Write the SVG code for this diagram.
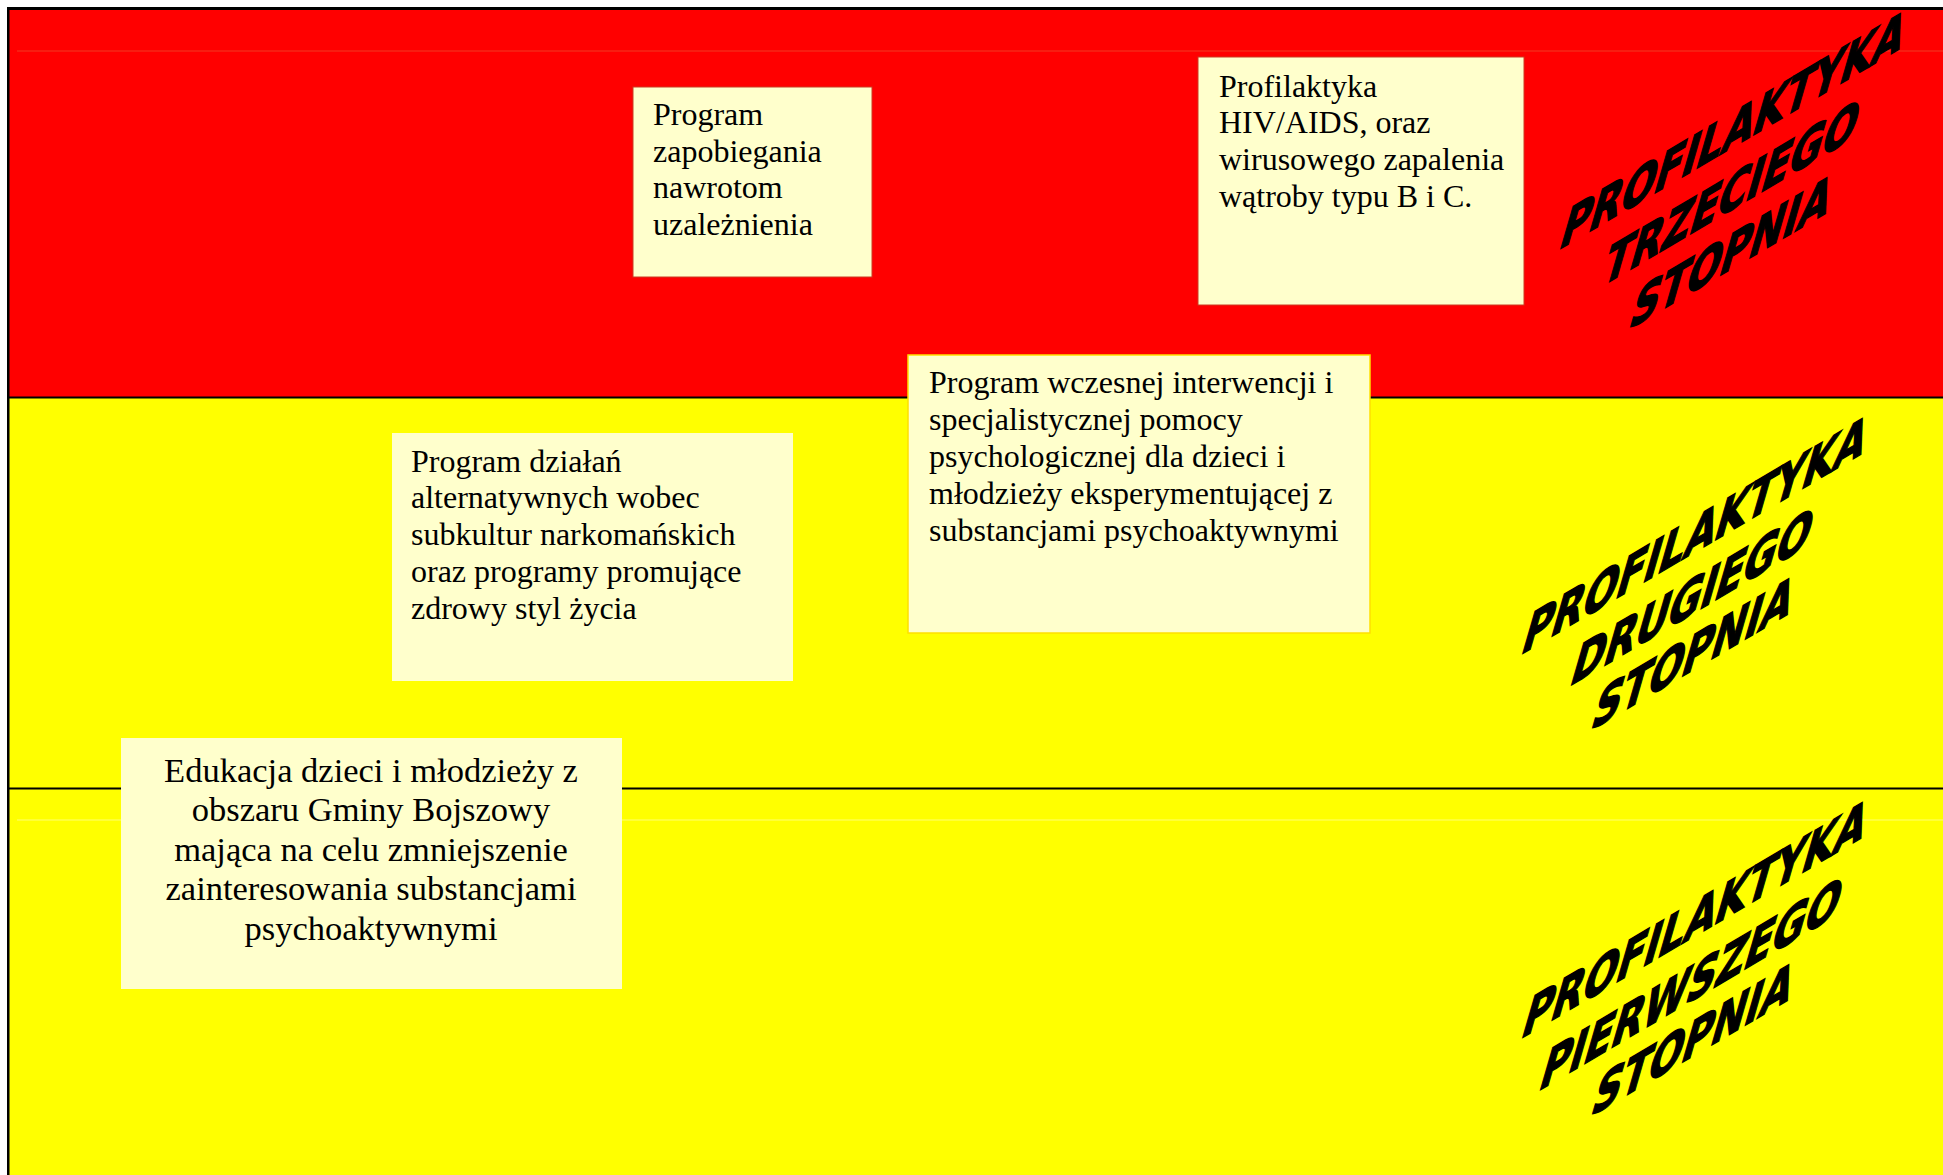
<svg xmlns="http://www.w3.org/2000/svg" width="1943" height="1175" viewBox="0 0 1943 1175">
<style>
.box{fill:#FFFFCC}
.bx{font-family:"Liberation Serif","Times New Roman",serif;font-size:32px;fill:#000}
.bx5{font-family:"Liberation Serif","Times New Roman",serif;font-size:34.5px;fill:#000;text-anchor:middle}
.lab{font-family:"DejaVu Sans","Verdana",sans-serif;font-weight:bold;font-size:40px;fill:#000;stroke:#000;stroke-width:1.2;text-anchor:middle}
</style>
<rect x="0" y="0" width="1943" height="1175" fill="#FFFFFF"/>
<g id="bands">
<rect x="9" y="10" width="1934" height="388" fill="#FF0000"/>
<rect x="9" y="398" width="1934" height="777" fill="#FFFF00"/>
<rect x="17" y="50.5" width="1926" height="1" fill="#F23A22"/>
<rect x="17" y="819.5" width="1926" height="1" fill="#FFFF70"/>
<rect x="7" y="7" width="1936" height="3" fill="#000"/>
<rect x="7" y="7" width="2.5" height="1168" fill="#000"/>
<rect x="9" y="396.5" width="1934" height="2" fill="#000"/>
<rect x="9" y="787.5" width="1934" height="2" fill="#000"/>
</g>
<g id="connectors"></g>
<g id="node-zapobiegania">
<rect class="box" x="633" y="87" width="239" height="190" stroke="#CC3A22" stroke-width="1"/>
<text class="bx"><tspan x="653" y="125">Program</tspan><tspan x="653" y="161.7">zapobiegania</tspan><tspan x="653" y="198.3">nawrotom</tspan><tspan x="653" y="235">uzależnienia</tspan></text>
</g>
<g id="node-hiv">
<rect class="box" x="1198" y="57" width="326" height="248" stroke="#CC3A22" stroke-width="1"/>
<text class="bx"><tspan x="1219" y="96.7">Profilaktyka</tspan><tspan x="1219" y="133.3">HIV/AIDS, oraz</tspan><tspan x="1219" y="170">wirusowego zapalenia</tspan><tspan x="1219" y="206.7">wątroby typu B i C.</tspan></text>
</g>
<g id="node-wczesna">
<rect class="box" x="908" y="355" width="462" height="278" stroke="#FFE000" stroke-width="1.5"/>
<text class="bx"><tspan x="929" y="393.3">Program wczesnej interwencji i</tspan><tspan x="929" y="430.3">specjalistycznej pomocy</tspan><tspan x="929" y="467.3">psychologicznej dla dzieci i</tspan><tspan x="929" y="504.3">młodzieży eksperymentującej z</tspan><tspan x="929" y="541.3">substancjami psychoaktywnymi</tspan></text>
</g>
<g id="node-alternatywne">
<rect class="box" x="392" y="433" width="401" height="248"/>
<text class="bx"><tspan x="411" y="471.7">Program działań</tspan><tspan x="411" y="508.3">alternatywnych wobec</tspan><tspan x="411" y="545">subkultur narkomańskich</tspan><tspan x="411" y="581.7">oraz programy promujące</tspan><tspan x="411" y="618.5">zdrowy styl życia</tspan></text>
</g>
<g id="node-edukacja">
<rect class="box" x="121" y="738" width="501" height="251"/>
<text class="bx5"><tspan x="371" y="781.5">Edukacja dzieci i młodzieży z</tspan><tspan x="371" y="821">obszaru Gminy Bojszowy</tspan><tspan x="371" y="860.5">mająca na celu zmniejszenie</tspan><tspan x="371" y="900">zainteresowania substancjami</tspan><tspan x="371" y="939.5">psychoaktywnymi</tspan></text>
</g>
<g id="label-trzeciego">
<text class="lab" transform="matrix(1 -0.59 -0.42 1.45 1728 150)">PROFILAKTYKA</text>
<text class="lab" transform="matrix(1 -0.59 -0.42 1.45 1726 213)">TRZECIEGO</text>
<text class="lab" transform="matrix(1 -0.59 -0.42 1.45 1726 272)">STOPNIA</text>
</g>
<g id="label-drugiego">
<text class="lab" transform="matrix(1 -0.59 -0.42 1.45 1690 555)">PROFILAKTYKA</text>
<text class="lab" transform="matrix(1 -0.59 -0.42 1.45 1687 617)">DRUGIEGO</text>
<text class="lab" transform="matrix(1 -0.59 -0.42 1.45 1688 673)">STOPNIA</text>
</g>
<g id="label-pierwszego">
<text class="lab" transform="matrix(1 -0.59 -0.42 1.45 1690 939)">PROFILAKTYKA</text>
<text class="lab" transform="matrix(1 -0.59 -0.42 1.45 1686 1004)">PIERWSZEGO</text>
<text class="lab" transform="matrix(1 -0.59 -0.42 1.45 1688 1059)">STOPNIA</text>
</g>
</svg>
